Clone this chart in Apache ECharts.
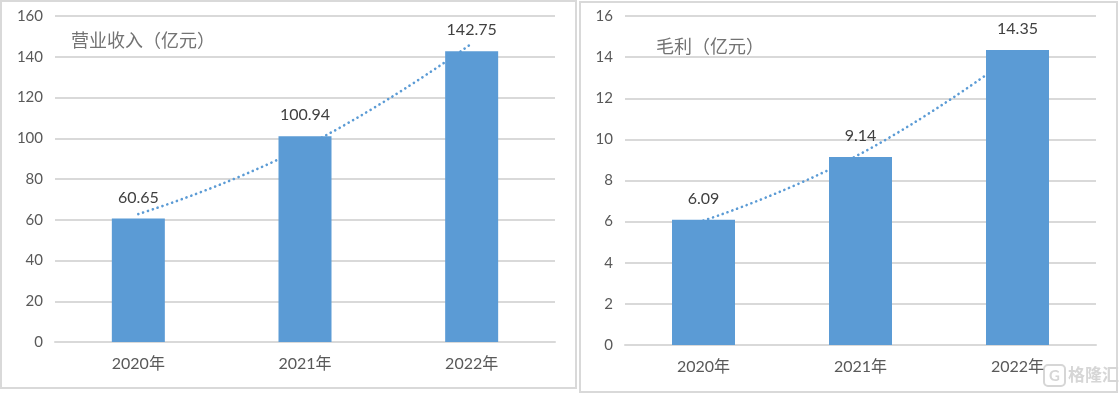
<!DOCTYPE html>
<html>
<head>
<meta charset="utf-8">
<script src="https://cdn.jsdelivr.net/npm/echarts@6/dist/echarts.min.js"></script>
<style>
html,body{margin:0;padding:0;background:#fff;}
#c{width:1119px;height:393px;}
</style>
</head>
<body>
<div id="c"></div>
<script>
var categories = ['2020年', '2021年', '2022年'];
var revenue = [60.65, 100.94, 142.75];
var revenueTrend = [62.8, 96.0, 146.5];
var grossProfit = [6.09, 9.14, 14.35];
var profitTrend = [6.05, 9.3, 14.25];
var titles = ['营业收入（亿元）', '毛利（亿元）'];

var FONT = "Lato, 'Noto Sans CJK SC', sans-serif";
var BLUE = '#5b9bd5';
var GRID = '#d9d9d9';

var chart = echarts.init(document.getElementById('c'), null, {renderer: 'canvas'});

function xAxis(idx) {
  return {
    type: 'category', gridIndex: idx, data: categories,
    axisLine: {lineStyle: {color: GRID, width: 2}},
    axisTick: {show: false},
    axisLabel: {color: '#595959', fontSize: 16, fontFamily: FONT, margin: 14}
  };
}
function yAxis(idx, max, interval) {
  return {
    type: 'value', gridIndex: idx, min: 0, max: max, interval: interval,
    axisLine: {show: false}, axisTick: {show: false},
    axisLabel: {color: '#595959', fontSize: 15, fontFamily: FONT, margin: 12},
    splitLine: {lineStyle: {color: GRID, width: 2}}
  };
}
function barSeries(idx, data, w) {
  return {
    type: 'bar', xAxisIndex: idx, yAxisIndex: idx, data: data, barWidth: w, z: 3,
    itemStyle: {color: BLUE},
    label: {show: true, position: 'top', distance: 13, color: '#404040', fontSize: 16, fontFamily: FONT}
  };
}
function trendSeries(idx, data) {
  return {
    type: 'line', xAxisIndex: idx, yAxisIndex: idx, data: data, z: 2,
    smooth: true, symbol: 'none', silent: true,
    lineStyle: {color: BLUE, width: 2.6, type: [0.1, 5], cap: 'round'}
  };
}

chart.setOption({
  animation: false,
  title: [
    {text: titles[0], left: 66, top: 27, textStyle: {color: '#737373', fontSize: 18, fontWeight: 'normal', fontFamily: FONT}},
    {text: titles[1], left: 651, top: 33, textStyle: {color: '#737373', fontSize: 18, fontWeight: 'normal', fontFamily: FONT}}
  ],
  grid: [
    {left: 55, right: 564, top: 16, bottom: 51},
    {left: 625, right: 23, top: 16, bottom: 48}
  ],
  xAxis: [xAxis(0), xAxis(1)],
  yAxis: [yAxis(0, 160, 20), yAxis(1, 16, 2)],
  series: [
    trendSeries(0, revenueTrend),
    barSeries(0, revenue, 53),
    trendSeries(1, profitTrend),
    barSeries(1, grossProfit, 63)
  ],
  graphic: [
    {type: 'rect', shape: {x: 1, y: 1, width: 575, height: 387}, style: {fill: 'none', stroke: GRID, lineWidth: 2}, silent: true},
    {type: 'rect', shape: {x: 580, y: 2, width: 537, height: 390}, style: {fill: 'none', stroke: GRID, lineWidth: 2}, silent: true},
    {type: 'rect', shape: {x: 1044, y: 365, width: 21, height: 21, r: 4}, style: {fill: 'none', stroke: '#d6d6d6', lineWidth: 2}, silent: true},
    {type: 'text', x: 1054.5, y: 376, style: {text: 'G', fill: '#d6d6d6', font: 'bold 15px ' + FONT, textAlign: 'center', textVerticalAlign: 'middle'}, silent: true},
    {type: 'text', x: 1068, y: 376, style: {text: '格隆汇', fill: '#d6d6d6', font: 'bold 17px ' + FONT, textVerticalAlign: 'middle'}, silent: true}
  ]
});
</script>
</body>
</html>
